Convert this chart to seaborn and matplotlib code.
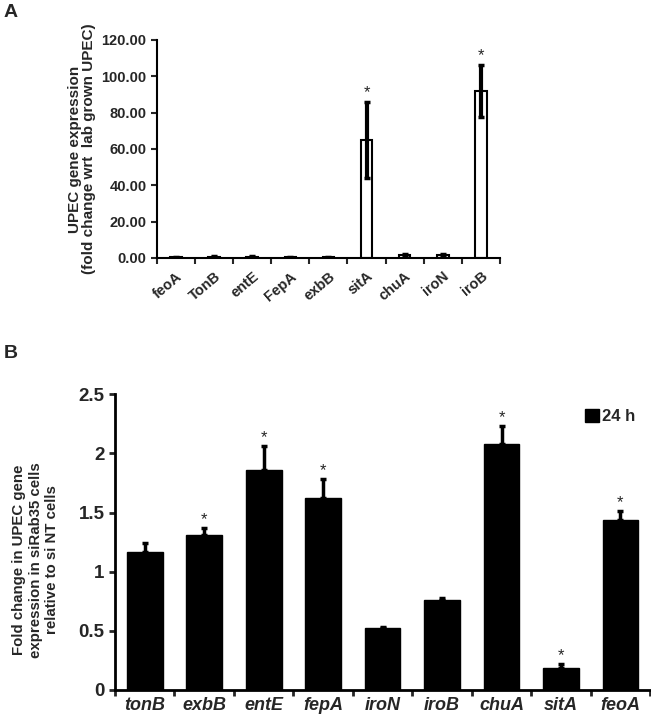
import matplotlib
matplotlib.use('Agg')
import matplotlib.pyplot as plt
import seaborn as sns
import pandas as pd
from matplotlib.patches import Patch
from matplotlib.ticker import FormatStrFormatter

# panel A data
genes_a = ['feoA', 'TonB', 'entE', 'FepA', 'exbB', 'sitA', 'chuA', 'iroN', 'iroB']
fold_a = [0.5, 0.6, 0.6, 0.5, 0.5, 65.0, 1.5, 1.5, 92.0]
err_a = [0.3, 0.3, 0.3, 0.3, 0.3, 21.0, 0.5, 0.5, 14.5]
star_a = [False, False, False, False, False, True, False, False, True]

# panel B data
genes_b = ['tonB', 'exbB', 'entE', 'fepA', 'iroN', 'iroB', 'chuA', 'sitA', 'feoA']
fold_b = [1.17, 1.31, 1.86, 1.62, 0.52, 0.76, 2.08, 0.19, 1.44]
err_b = [0.07, 0.06, 0.20, 0.16, 0.01, 0.02, 0.15, 0.03, 0.07]
star_b = [False, True, True, True, False, False, True, True, True]

sns.set_style('white')
plt.rcParams['font.family'] = ['Liberation Sans', 'DejaVu Sans']
plt.rcParams['font.weight'] = 'bold'
plt.rcParams['axes.labelweight'] = 'bold'

fig = plt.figure(figsize=(6.51, 7.18), dpi=100)
ax_a = fig.add_axes([0.241, 0.6407, 0.527, 0.3036])
ax_b = fig.add_axes([0.1767, 0.039, 0.822, 0.412])


def style_axes(ax, n, lw):
    for side in ['top', 'right']:
        ax.spines[side].set_visible(False)
    for side in ['left', 'bottom']:
        ax.spines[side].set_linewidth(lw)
        ax.spines[side].set_color('black')
    # ticks between categories, labels centred
    ax.set_xticks([i - 0.5 for i in range(n + 1)])
    ax.set_xticks(range(n), minor=True)
    ax.tick_params(axis='x', which='major', length=4, width=lw, direction='out',
                   labelbottom=False, bottom=True)
    ax.tick_params(axis='x', which='minor', length=0, bottom=True)
    ax.tick_params(axis='y', length=4, width=lw, direction='out', left=True)
    ax.set_xlim(-0.5, n - 0.5)


# ---- panel A ----
df_a = pd.DataFrame({'gene': genes_a, 'fold': fold_a})
sns.barplot(data=df_a, x='gene', y='fold', ax=ax_a, color='white',
            edgecolor='black', linewidth=1.5, width=0.3)
ax_a.errorbar(range(len(genes_a)), fold_a, yerr=err_a, fmt='none',
              ecolor='black', elinewidth=3, capsize=2.5, capthick=2.5)
for i, s in enumerate(star_a):
    if s:
        ax_a.text(i, fold_a[i] + err_a[i] + 1, '*', ha='center', va='bottom',
                  fontsize=12, fontweight='normal')
style_axes(ax_a, len(genes_a), 1.5)
ax_a.set_ylim(0, 120)
ax_a.set_yticks(range(0, 121, 20))
ax_a.yaxis.set_major_formatter(FormatStrFormatter('%.2f'))
ax_a.set_xticklabels(genes_a, minor=True, rotation=40, ha='right',
                     rotation_mode='anchor', fontsize=10.5, fontweight='bold')
ax_a.tick_params(axis='x', which='minor', pad=8)
ax_a.tick_params(axis='y', labelsize=10.5)
ax_a.set_xlabel('')
ax_a.set_ylabel('UPEC gene expression\n(fold change wrt  lab grown UPEC)',
                fontsize=11, linespacing=1.0, labelpad=4)

# ---- panel B ----
df_b = pd.DataFrame({'gene': genes_b, 'fold': fold_b})
sns.barplot(data=df_b, x='gene', y='fold', ax=ax_b, color='black',
            edgecolor='black', width=0.6)
ax_b.errorbar(range(len(genes_b)), fold_b, yerr=[[0] * len(err_b), err_b],
              fmt='none', ecolor='black', elinewidth=2.5, capsize=2.5,
              capthick=2.5)
for i, s in enumerate(star_b):
    if s:
        ax_b.text(i, fold_b[i] + err_b[i] + 0.01, '*', ha='center',
                  va='bottom', fontsize=12, fontweight='normal')
style_axes(ax_b, len(genes_b), 2)
ax_b.set_ylim(0, 2.5)
ax_b.set_yticks([0, 0.5, 1, 1.5, 2, 2.5])
ax_b.set_yticklabels(['0', '0.5', '1', '1.5', '2', '2.5'])
ax_b.set_xticklabels(genes_b, minor=True, fontsize=13, fontweight='bold',
                     fontstyle='italic')
ax_b.tick_params(axis='x', which='minor', pad=5)
ax_b.tick_params(axis='y', labelsize=13.5)
ax_b.set_xlabel('')
ax_b.set_ylabel('Fold change in UPEC gene\nexpression in siRab35 cells\nrelative to si NT cells',
                fontsize=10.8, linespacing=1.2)
ax_b.yaxis.set_label_coords(-0.105, 0.44)
ax_b.legend(handles=[Patch(facecolor='black', edgecolor='black', label='24 h')],
            loc='upper right', frameon=False, fontsize=12, handlelength=0.8,
            handleheight=0.8, handletextpad=0.2, bbox_to_anchor=(1.0, 1.0))

fig.text(0.005, 0.995, 'A', fontsize=14, fontweight='bold', va='top')
fig.text(0.005, 0.52, 'B', fontsize=14, fontweight='bold', va='top')

fig.savefig('out.png', dpi=100)
